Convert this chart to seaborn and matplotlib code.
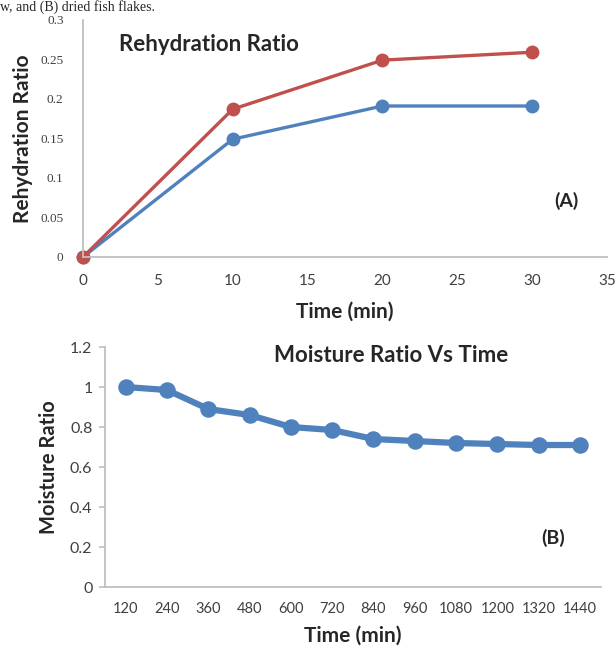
import numpy as np
import pandas as pd
import matplotlib.pyplot as plt
import seaborn as sns

sns.set_style("white")
plt.rcParams['font.family'] = ['Lato', 'DejaVu Sans']

# panel A - rehydration
reh_time = [0, 10, 20, 30]
reh_red = [0, 0.187, 0.249, 0.259]
reh_blue = [0, 0.149, 0.191, 0.191]

# panel B - moisture ratio
mr_time = ['120', '240', '360', '480', '600', '720', '840', '960', '1080', '1200', '1320', '1440']
mr_vals = [1.0, 0.985, 0.89, 0.86, 0.80, 0.785, 0.74, 0.73, 0.72, 0.715, 0.71, 0.71]

RED = '#C0504D'
BLUE = '#4F81BD'
AX_C = '#BFBFBF'
TXT = '#404040'

fig = plt.figure(figsize=(6.15, 6.48), dpi=100)

fig.text(0.0, 1.0, 'w, and (B) dried fish flakes.', fontsize=10,
         family='Liberation Serif', va='top', ha='left')

# ---- (A)
ax1 = fig.add_axes([0.135, 0.6034, 0.852, 0.366])
df_a = pd.DataFrame({'t': reh_time * 2, 'r': reh_blue + reh_red,
                     's': ['blue'] * 4 + ['red'] * 4})
sns.lineplot(data=df_a, x='t', y='r', hue='s', palette={'blue': BLUE, 'red': RED},
             marker='o', markersize=10, markeredgewidth=0, linewidth=2.4,
             legend=False, ax=ax1)
ax1.set_xlim(0, 35)
ax1.set_ylim(0, 0.3)
ax1.set_xticks(np.arange(0, 36, 5))
ax1.set_yticks([0, 0.05, 0.1, 0.15, 0.2, 0.25, 0.3])
ax1.set_yticklabels(['0', '0.05', '0.1', '0.15', '0.2', '0.25', '0.3'],
                    family='Liberation Serif')
ax1.tick_params(axis='y', length=0, labelsize=9.5, colors=TXT, pad=14)
ax1.tick_params(axis='x', length=0, labelsize=11, colors=TXT, pad=12)
for s in ['top', 'right']:
    ax1.spines[s].set_visible(False)
for s in ['left', 'bottom']:
    ax1.spines[s].set_color(AX_C)
    ax1.spines[s].set_linewidth(1.3)
ax1.set_xlabel('Time (min)', fontsize=15, fontweight='bold', labelpad=10)
ax1.set_ylabel('Rehydration Ratio', fontsize=15, fontweight='bold', labelpad=5)
ax1.text(0.068, 0.895, 'Rehydration Ratio', transform=ax1.transAxes,
         fontsize=16, fontweight='bold', va='center')
ax1.text(0.9, 0.238, '(A)', transform=ax1.transAxes,
         fontsize=14, fontweight='bold', va='center')
for l in ax1.lines:
    l.set_clip_on(False)

# ---- (B)
ax2 = fig.add_axes([0.1707, 0.0941, 0.806, 0.3704])
sns.pointplot(x=mr_time, y=mr_vals, color=BLUE, markersize=8.5,
              linewidth=4.5, ax=ax2)
ax2.set_xlim(-0.5, 11.5)
ax2.set_ylim(0, 1.2)
ax2.set_yticks([0, 0.2, 0.4, 0.6, 0.8, 1.0, 1.2])
ax2.set_yticklabels(['0', '0.2', '0.4', '0.6', '0.8', '1', '1.2'])
ax2.set_xticks(np.arange(-0.5, 12, 1), minor=True)
ax2.tick_params(axis='x', which='major', length=0, pad=11, labelsize=10.5)
ax2.tick_params(axis='x', which='minor', length=4, color=AX_C, width=1.2)
ax2.tick_params(axis='y', length=4, color=AX_C, width=1.2, left=True,
                labelsize=11.5, pad=5)
ax2.tick_params(axis='both', labelcolor=TXT)
for s in ['top', 'right']:
    ax2.spines[s].set_visible(False)
for s in ['left', 'bottom']:
    ax2.spines[s].set_color(AX_C)
    ax2.spines[s].set_linewidth(1.3)
ax2.set_xlabel('Time (min)', fontsize=15, fontweight='bold', labelpad=7)
ax2.set_ylabel('Moisture Ratio', fontsize=14.5, fontweight='bold', labelpad=8)
ax2.text(0.34, 0.965, 'Moisture Ratio Vs Time', transform=ax2.transAxes,
         fontsize=16, fontweight='bold', va='center')
ax2.text(0.88, 0.205, '(B)', transform=ax2.transAxes,
         fontsize=14, fontweight='bold', va='center')

fig.savefig('out.png', dpi=100)
